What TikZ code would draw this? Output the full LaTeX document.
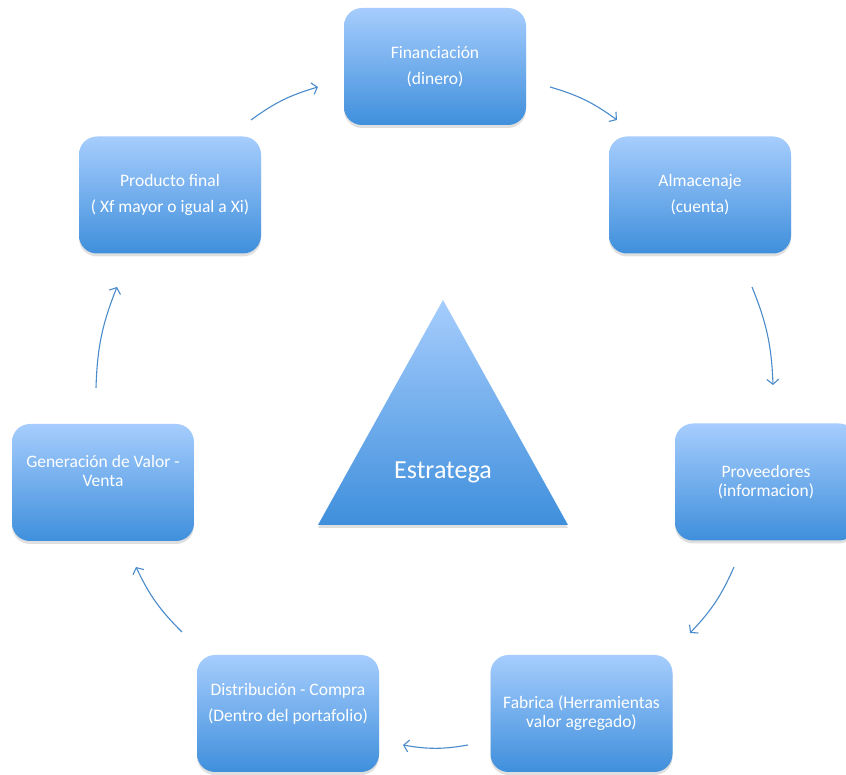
\documentclass[tikz,border=0pt]{standalone}
\usepackage{fontspec}
\setmainfont{Carlito}
\usetikzlibrary{arrows.meta,shadows}
\definecolor{cajaarriba}{HTML}{A6CDFD}
\definecolor{cajaabajo}{HTML}{3F8FDC}
\definecolor{flechaazul}{HTML}{4A8BCB}
\newcommand{\vacio}{\mbox{}}

\begin{document}
\begin{tikzpicture}[x=1pt,y=1pt,
    etapa/.style={rectangle, rounded corners=18pt, minimum width=182pt,
      minimum height=117pt, inner sep=2pt, top color=cajaarriba,
      bottom color=cajaabajo, text=white, align=center,
      font=\fontsize{17.5}{19}\selectfont,
      drop shadow={opacity=0.25, shadow xshift=0pt, shadow yshift=-3pt}},
    flecha/.style={draw=flechaazul, line width=1.1pt,
      -{Straight Barb[length=5pt,width=12pt]}, bend left=10}]
    \useasboundingbox (0,0) rectangle (846,775);
    \clip (0,0) rectangle (846,775);

    % etapas del ciclo
    \node[etapa] (fin)  at (435,708.5) {Financiación\\[7pt](dinero)};
    \node[etapa] (alm)  at (700,580)   {Almacenaje\\[7pt](cuenta)};
    \node[etapa] (prov) at (766,293)   {Proveedores\\(informacion)};
    \node[etapa] (fab)  at (581.5,61.5) {Fabrica (Herramientas\\valor agregado)};
    \node[etapa] (dist) at (288,61.5)  {Distribución - Compra\\[7pt](Dentro del portafolio)\\[3pt]\vacio};
    \node[etapa] (gen)  at (103,292.5) {Generación de Valor -\\Venta\\[5pt]\vacio};
    \node[etapa] (prod) at (170,580)   {Producto final\\[7pt]( Xf mayor o igual a Xi)};

    % triangulo central
    \shade[top color=cajaarriba, bottom color=cajaabajo,
      drop shadow={opacity=0.25, shadow xshift=0pt, shadow yshift=-3pt}]
      (318,250) -- (443,475) -- (568,250) -- cycle;
    \node[text=white, font=\fontsize{26}{30}\selectfont] (estr) at (443,303) {Estratega};

    % flechas
    \coordinate (f1a) at (251,655); \coordinate (f1b) at (318,688);
    \coordinate (f2a) at (550,688); \coordinate (f2b) at (617,655);
    \coordinate (f3a) at (752,488); \coordinate (f3b) at (773,390);
    \coordinate (f4a) at (734,208); \coordinate (f4b) at (690,142);
    \coordinate (f5a) at (468,30);  \coordinate (f5b) at (403,30);
    \coordinate (f6a) at (182,143); \coordinate (f6b) at (136,208);
    \coordinate (f7a) at (96,387);  \coordinate (f7b) at (117,488);
    \foreach \i in {1,...,7}
      \draw[flecha] (f\i a) to (f\i b);
\end{tikzpicture}
\end{document}
